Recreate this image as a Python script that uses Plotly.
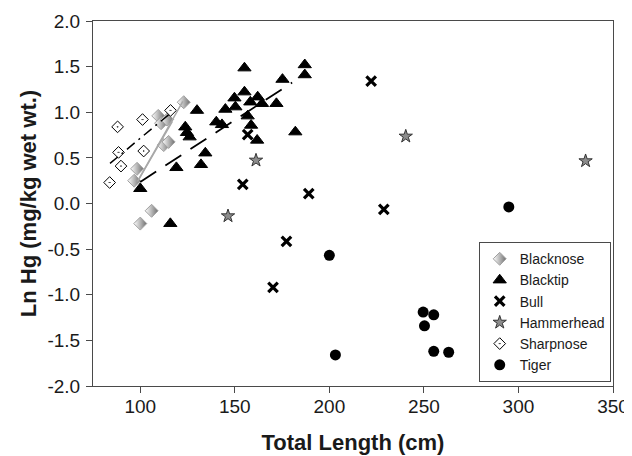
import plotly.graph_objects as go

# ---- data ----
blacknose_x = [123.0, 109.5, 111.0, 114.2, 112.4, 115.0, 98.3, 96.8, 106.0, 100.0]
blacknose_y = [1.11, 0.96, 0.88, 0.92, 0.64, 0.675, 0.38, 0.25, -0.08, -0.22]

blacktip_x = [155.1, 187.0, 187.0, 175.2, 155.1, 149.8, 162.1, 158.2, 164.4, 172.0,
              150.3, 145.0, 130.0, 156.8, 140.2, 143.2, 158.6, 123.8, 124.7, 126.1,
              161.8, 182.0, 134.4, 132.1, 119.1, 100.0, 115.9]
blacktip_y = [1.485, 1.52, 1.41, 1.36, 1.222, 1.156, 1.167, 1.112, 1.095, 1.095,
              1.058, 1.032, 1.02, 0.959, 0.893, 0.864, 0.857, 0.838, 0.777, 0.729,
              0.693, 0.784, 0.553, 0.426, 0.393, 0.163, -0.22]

bull_x = [222.1, 156.8, 154.2, 189.1, 228.8, 177.3, 170.2]
bull_y = [1.34, 0.755, 0.21, 0.108, -0.064, -0.414, -0.918]

hammerhead_x = [161.2, 146.4, 240.4, 335.5]
hammerhead_y = [0.473, -0.137, 0.736, 0.466]

sharpnose_x = [88.0, 101.2, 88.5, 89.8, 83.8, 101.8, 116.0]
sharpnose_y = [0.84, 0.92, 0.56, 0.41, 0.23, 0.575, 1.02]

tiger_x = [294.9, 200.0, 203.2, 249.6, 255.2, 250.3, 255.2, 263.1]
tiger_y = [-0.038, -0.568, -1.66, -1.19, -1.22, -1.34, -1.62, -1.63]

# fitted lines (end points)
sharpnose_fit_x = [84.0, 116.0]
sharpnose_fit_y = [0.44, 0.99]
blacktip_fit_x = [100.0, 180.3]
blacktip_fit_y = [0.236, 1.325]
blacknose_fit1_x = [99.0, 122.5]
blacknose_fit1_y = [0.26, 1.12]
blacknose_fit2_x = [98.5, 117.0]
blacknose_fit2_y = [0.24, 0.90]

x_ticks = [100, 150, 200, 250, 300, 350]
y_ticks = [-2.0, -1.5, -1.0, -0.5, 0.0, 0.5, 1.0, 1.5, 2.0]

FONT = "Liberation Sans, Arial, Helvetica, sans-serif"
AXC = "#4a4a4a"

fig = go.Figure()

fig.add_trace(go.Scatter(
    x=blacknose_x, y=blacknose_y, mode="markers", name="Blacknose",
    marker=dict(symbol="diamond", size=10, color="#ffffff",
                gradient=dict(type="horizontal", color="#6e6e6e"),
                line=dict(color="#a0a0a0", width=1))))
fig.add_trace(go.Scatter(
    x=blacktip_x, y=blacktip_y, mode="markers", name="Blacktip",
    marker=dict(symbol="triangle-up", size=11.5, color="black",
                line=dict(color="black", width=1))))
fig.add_trace(go.Scatter(
    x=bull_x, y=bull_y, mode="markers", name="Bull",
    marker=dict(symbol="x-thin", size=9.5, color="black",
                line=dict(color="black", width=3.2))))
fig.add_trace(go.Scatter(
    x=hammerhead_x, y=hammerhead_y, mode="markers", name="Hammerhead",
    marker=dict(symbol="star", size=10, color="#8c8c8c",
                line=dict(color="#333333", width=1))))
fig.add_trace(go.Scatter(
    x=sharpnose_x, y=sharpnose_y, mode="markers", name="Sharpnose",
    marker=dict(symbol="diamond-dot", size=9, color="white",
                line=dict(color="black", width=1))))
fig.add_trace(go.Scatter(
    x=tiger_x, y=tiger_y, mode="markers", name="Tiger",
    marker=dict(symbol="circle", size=11, color="black",
                line=dict(color="black", width=0))))

fig.add_trace(go.Scatter(
    x=sharpnose_fit_x, y=sharpnose_fit_y, mode="lines", showlegend=False,
    line=dict(color="black", width=1.5, dash="10px,5px,2px,5px")))
fig.add_trace(go.Scatter(
    x=blacktip_fit_x, y=blacktip_fit_y, mode="lines", showlegend=False,
    line=dict(color="black", width=1.8, dash="19px,11px")))
fig.add_trace(go.Scatter(
    x=blacknose_fit1_x, y=blacknose_fit1_y, mode="lines", showlegend=False,
    line=dict(color="#a8a8a8", width=1.5)))
fig.add_trace(go.Scatter(
    x=blacknose_fit2_x, y=blacknose_fit2_y, mode="lines", showlegend=False,
    line=dict(color="#a8a8a8", width=1.5)))

# page body has an 8px margin, so the figure is sized to fit the 632x456 window
fig.update_layout(
    width=624, height=448,
    margin=dict(l=85, r=19, t=13, b=70),
    paper_bgcolor="white", plot_bgcolor="white",
    font=dict(family=FONT, size=19, color="#1a1a1a"),
    showlegend=True,
    legend=dict(x=0.9956, y=0.0104, xanchor="right", yanchor="bottom",
                bgcolor="white", bordercolor=AXC, borderwidth=1,
                font=dict(family=FONT, size=14, color="#1a1a1a"),
                tracegroupgap=0, itemwidth=30),
)
fig.update_xaxes(
    range=[75, 350], tickvals=x_ticks, ticktext=[str(v) for v in x_ticks],
    showgrid=False, zeroline=False, showline=True, linecolor=AXC, linewidth=1,
    mirror=True, ticks="outside", ticklen=6, tickcolor=AXC, automargin=False,
    ticklabelstandoff=-3,
    tickfont=dict(family=FONT, size=19),
    title=dict(text="<b>Total Length (cm)</b>", font=dict(family=FONT, size=22), standoff=18),
)
fig.update_yaxes(
    range=[-2.0, 2.0], tickvals=y_ticks, ticktext=[f"{v:.1f}" for v in y_ticks],
    showgrid=False, zeroline=False, showline=True, linecolor=AXC, linewidth=1,
    mirror=True, ticks="outside", ticklen=6, tickcolor=AXC, ticklabelstandoff=2,
    automargin=False,
    tickfont=dict(family=FONT, size=19),
    title=dict(text="<b>Ln Hg (mg/kg wet wt.)</b>", font=dict(family=FONT, size=22), standoff=4),
)

fig.write_html("out.html")
